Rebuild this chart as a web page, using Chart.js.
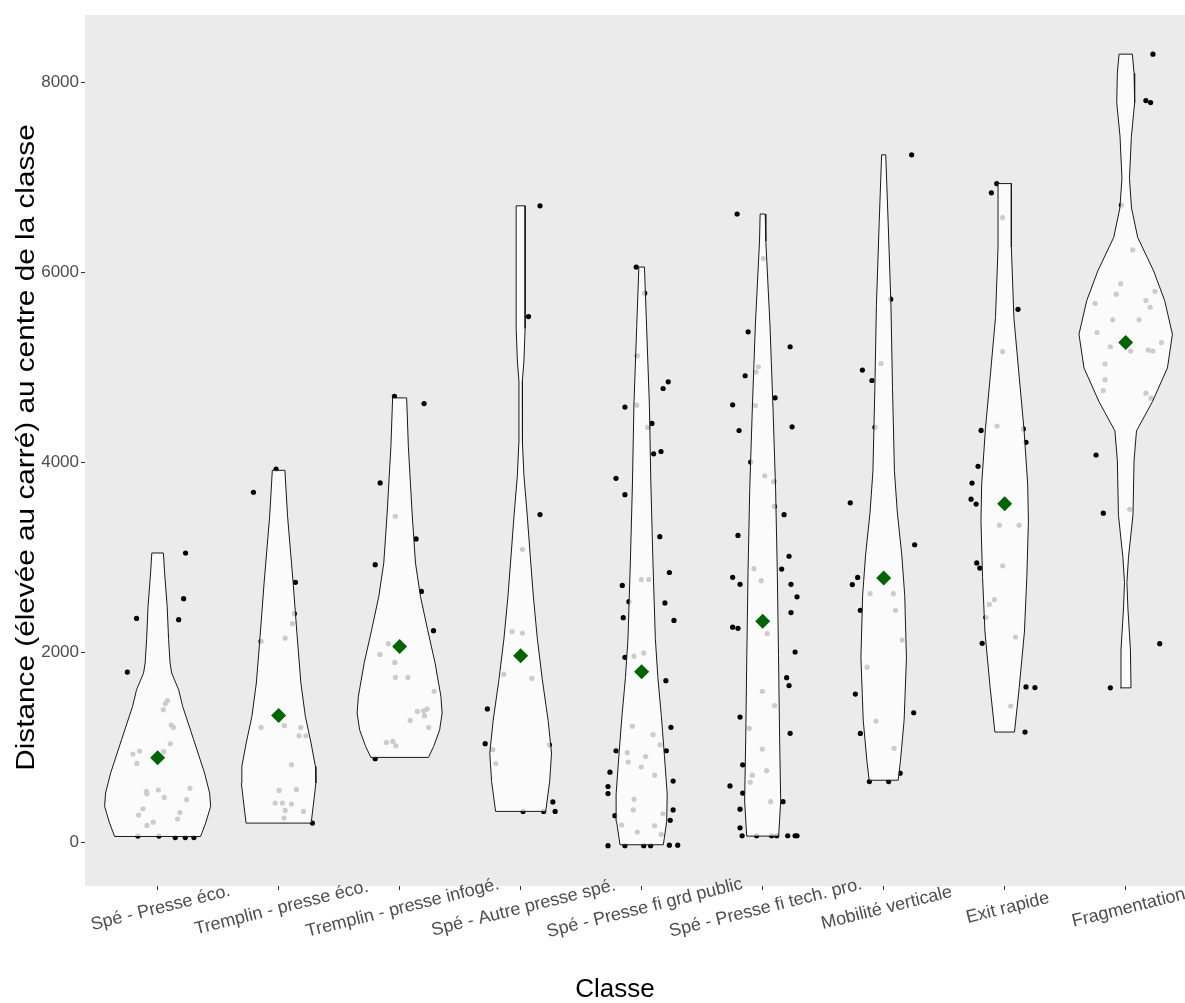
<!DOCTYPE html>
<html>
<head>
<meta charset="utf-8">
<script src="https://cdn.jsdelivr.net/npm/chart.js@4/dist/chart.umd.min.js"></script>
<style>
  body { margin: 0; background: #ffffff; }
</style>
</head>
<body>
<canvas id="violin" width="1185" height="1003"></canvas>
<script>
// classes on the x axis
const categories = [
  'Spé - Presse éco.',
  'Tremplin - presse éco.',
  'Tremplin - presse infogé.',
  'Spé - Autre presse spé.',
  'Spé - Presse fi grd public',
  'Spé - Presse fi tech. pro.',
  'Mobilité verticale',
  'Exit rapide',
  'Fragmentation'
];

const yTicks = [0, 2000, 4000, 6000, 8000];

// mean per class (green diamonds)
const means = [895, 1340, 2066, 1968, 1800, 2330, 2787, 3568, 5263];

// violin outline: levels (y) and half-width (in class units) at each level
const violinLevels = [
  [66, 207, 382, 523, 734, 1084, 1435, 1610, 1786, 1891, 2137, 2487, 2839, 3049],
  [207, 453, 628, 803, 1049, 1329, 1681, 2207, 2734, 3435, 3919],
  [898, 1014, 1189, 1365, 1540, 1891, 2242, 2593, 2944, 3470, 4172, 4681],
  [330, 644, 944, 1288, 1718, 2147, 2577, 3007, 3437, 3866, 4210, 4855, 5069, 5412, 6702],
  [-21, 224, 511, 920, 1329, 1739, 2148, 2966, 3785, 4604, 5423, 6058],
  [70, 440, 1095, 1968, 2841, 3714, 4586, 5459, 6331, 6616],
  [658, 854, 1290, 1945, 2600, 3036, 3472, 3908, 4781, 5654, 6527, 7239],
  [1165, 1632, 2217, 2800, 3384, 3774, 4358, 4942, 5526, 6266, 6936],
  [1630, 2028, 2471, 2738, 3003, 3446, 4022, 4333, 4642, 4997, 5351, 5705, 6016, 6370, 6680, 6990, 7433, 7788, 8098, 8298]
];
const violinHalfWidths = [
  [0.355, 0.397, 0.438, 0.430, 0.388, 0.298, 0.207, 0.174, 0.116, 0.103, 0.091, 0.079, 0.058, 0.048],
  [0.269, 0.292, 0.308, 0.304, 0.268, 0.221, 0.184, 0.151, 0.120, 0.074, 0.052],
  [0.238, 0.281, 0.331, 0.351, 0.341, 0.293, 0.231, 0.172, 0.131, 0.103, 0.072, 0.058],
  [0.207, 0.240, 0.255, 0.227, 0.179, 0.138, 0.106, 0.080, 0.055, 0.027, 0.015, 0.014, 0.027, 0.037, 0.037],
  [0.179, 0.207, 0.211, 0.188, 0.163, 0.134, 0.113, 0.093, 0.076, 0.064, 0.041, 0.023],
  [0.132, 0.149, 0.140, 0.131, 0.121, 0.107, 0.085, 0.060, 0.026, 0.021],
  [0.120, 0.138, 0.169, 0.188, 0.174, 0.149, 0.113, 0.089, 0.073, 0.060, 0.037, 0.017],
  [0.081, 0.120, 0.163, 0.183, 0.196, 0.190, 0.159, 0.117, 0.076, 0.055, 0.055],
  [0.044, 0.039, 0.018, 0.010, 0.023, 0.060, 0.069, 0.089, 0.221, 0.345, 0.386, 0.322, 0.231, 0.099, 0.048, 0.031, 0.047, 0.074, 0.069, 0.055]
];

// jittered observations: [horizontal jitter in class units, value]
const jitterPoints = [
  [[0.231,3049],[0.215,2568],[-0.174,2361],[0.174,2347],[-0.25,1796],[-0.163,70],[0.011,70],[0.146,55],[0.229,55],[0.3,55],
   [0.08,1495],[0.064,1463],[0.047,1400],[0.113,1239],[0.13,1214],[0.105,1042],[-0.149,965],[-0.204,933],[-0.171,835],[0.05,958],
   [-0.093,540],[-0.088,516],[0.006,555],[0.055,477],[0.267,573],[0.24,453],[-0.121,358],[-0.157,291],[0.184,318],[0.165,249],[-0.036,217],[-0.088,182]],
  [[-0.021,3931],[-0.208,3688],[0.139,2740],[0.13,2410],[-0.145,2119],[0.279,207],
   [0.114,2305],[0.054,2154],[-0.145,1214],[0.048,1232],[0.183,1214],[0.169,1126],[0.225,1126],[0.106,821],[0.004,551],[0.147,561],
   [-0.029,418],[0.031,418],[0.106,407],[0.054,340],[0.205,330],[0.045,260]],
  [[-0.043,4698],[0.202,4621],[-0.161,3786],[0.136,3197],[-0.202,2926],[0.18,2645],[0.28,2232],[-0.202,884],
   [-0.035,3435],[-0.093,2095],[-0.163,1982],[-0.04,1898],[-0.035,1740],[0.068,1740],[0.285,1593],[0.147,1382],[0.197,1389],[0.227,1407],
   [0.205,1337],[0.087,1287],[0.24,1214],[-0.109,1056],[-0.056,1066],[-0.031,1021]],
  [[0.16,6702],[0.065,5537],[0.16,3453],[-0.275,1408],[-0.293,1043],[0.266,430],[0.285,330],[0.02,330],[0.19,330],
   [0.015,3088],[-0.07,2221],[0.015,2207],[-0.139,1774],[0.093,1730],[-0.23,979],[-0.205,833],[0.238,1031]],
  [[-0.045,6058],[0.22,4850],[0.177,4780],[-0.138,4584],[0.085,4412],[0.099,4093],[0.16,4117],[-0.212,3835],[-0.138,3663],[0.15,3221],
   [0.229,2844],[-0.16,2708],[-0.105,2537],[0.192,2524],[-0.152,2368],[0.267,2340],[-0.138,1951],[0.2,1705],[0.242,1215],[-0.212,968],
   [0.204,968],[-0.262,743],[-0.278,592],[-0.278,518],[0.26,649],[-0.221,285],[0.26,346],[0.236,236],[-0.278,-31],[-0.138,-31],
   [0.017,-31],[0.074,-31],[0.229,-25],[0.298,-25],
   [0.025,5783],[-0.036,5124],[-0.041,4604],[0.05,4370],[-0.003,2770],[0.058,2770],[0.017,1997],[-0.063,1963],[-0.077,1226],[0.094,1137],
   [0.152,1031],[-0.119,948],[0.033,907],[-0.111,850],[-0.003,797],[0.107,711],[-0.063,457],[-0.069,346],[0.176,305],[-0.165,186],
   [0.107,179],[-0.036,113],[0.162,88]],
  [[-0.211,6616],[-0.12,5376],[0.227,5219],[-0.145,4914],[0.103,4682],[-0.248,4608],[0.243,4377],[-0.195,4338],[-0.099,4006],[0.091,3801],
   [0.177,3452],[-0.204,3234],[0.218,3015],[0.157,2880],[-0.248,2793],[-0.187,2719],[0.234,2719],[0.284,2588],[0.234,2422],[-0.248,2268],
   [-0.204,2256],[0.268,2007],[0.198,1737],[0.218,1654],[-0.187,1322],[0.227,1152],[-0.165,820],[-0.27,598],[-0.165,523],[0.168,432],
   [-0.187,353],[-0.187,157],[-0.17,74],[0.116,74],[0.207,74],[0.268,74],[0.284,74],
   [0.006,6147],[-0.036,5009],[-0.055,4953],[-0.06,4600],[0.017,3862],[0.097,3539],[-0.072,2884],[-0.012,2758],[0.037,2203],[-0.003,1593],
   [0.099,1444],[-0.11,1204],[-0.003,986],[-0.086,711],[-0.103,637],[0.033,759],[0.066,432],[-0.05,74],[0.074,74]],
  [[0.231,7239],[0.058,5720],[-0.176,4974],[-0.097,4864],[-0.072,4371],[-0.276,3577],[0.256,3136],[-0.215,2792],[-0.259,2717],[-0.193,2446],
   [-0.234,1565],[0.248,1368],[-0.193,1150],[0.136,732],[-0.118,644],[0.041,644],
   [-0.022,5043],[-0.113,2621],[0.08,2621],[0.097,2446],[0.152,2133],[-0.137,1848],[-0.063,1281],[0.086,994]],
  [[-0.066,6936],[-0.11,6839],[0.11,5613],[-0.195,4339],[0.154,4355],[0.176,4214],[-0.22,3961],[-0.27,3785],[-0.278,3615],[-0.236,3564],
   [-0.231,2944],[-0.206,2890],[-0.156,2373],[-0.186,2099],[0.176,1640],[0.25,1633],[0.168,1165],
   [-0.017,6578],[-0.017,5168],[-0.063,4385],[-0.044,3342],[0.119,3342],[-0.017,2914],[-0.085,2559],[-0.127,2508],[0.089,2165],[0.05,1438]],
  [[0.225,8298],[0.167,7810],[0.206,7788],[-0.036,6711],[0.21,4678],[-0.245,4080],[-0.185,3468],[0.281,2095],[-0.127,1630],
   [0.058,6238],[-0.041,5883],[-0.078,5772],[-0.253,5675],[0.242,5803],[0.167,5705],[0.202,5635],[-0.107,5502],[0.11,5502],[-0.237,5369],
   [-0.127,5219],[0.041,5174],[0.187,5183],[0.225,5174],[0.295,5263],[-0.171,5037],[-0.171,4873],[-0.185,4758],[0.167,4731],[0.033,3508]]
];

const FONT = '"Liberation Sans", Arial, sans-serif';
const Y_TITLE = 'Distance (élevée au carré) au centre de la classe';
const X_TITLE = 'Classe';

// closed outline: up the left side, down the right side
const violinDatasets = categories.map((name, i) => {
  const lv = violinLevels[i];
  const hw = violinHalfWidths[i];
  const left = lv.map((y, k) => ({ x: i + 1 - hw[k], y: y }));
  const right = lv.map((y, k) => ({ x: i + 1 + hw[k], y: y })).reverse();
  return {
    label: name,
    data: left.concat(right, [left[0]]),
    showLine: true,
    fill: 'shape',
    backgroundColor: 'rgba(255,255,255,0.8)',
    borderColor: '#1a1a1a',
    borderWidth: 1,
    pointRadius: 0,
    tension: 0,
    order: 2
  };
});

const pointData = [];
jitterPoints.forEach((pts, i) => {
  pts.forEach(p => pointData.push({ x: i + 1 + p[0], y: p[1] }));
});

const panelPlugin = {
  id: 'panel',
  beforeDraw(chart) {
    const { ctx, chartArea: a } = chart;
    ctx.save();
    ctx.fillStyle = '#ffffff';
    ctx.fillRect(0, 0, chart.width, chart.height);
    ctx.fillStyle = '#EBEBEB';
    ctx.fillRect(a.left, a.top, a.right - a.left, a.bottom - a.top);
    ctx.restore();
  },
  afterDraw(chart) {
    const { ctx, chartArea: a, scales: { x } } = chart;
    ctx.save();
    // rotated class labels, centred on their tick
    ctx.font = '18px ' + FONT;
    ctx.fillStyle = '#4D4D4D';
    ctx.textAlign = 'center';
    ctx.textBaseline = 'middle';
    categories.forEach((c, i) => {
      ctx.save();
      ctx.translate(x.getPixelForValue(i + 1) + 3, a.bottom + 22);
      ctx.rotate(-14 * Math.PI / 180);
      ctx.fillText(c, 0, 0);
      ctx.restore();
    });
    // axis titles (picture is stretched vertically, so the y title is longer)
    ctx.fillStyle = '#000000';
    ctx.font = '26px ' + FONT;
    ctx.fillText(X_TITLE, 615, 990);
    ctx.save();
    ctx.translate(27, (a.top + a.bottom) / 2 - 3);
    ctx.rotate(-Math.PI / 2);
    ctx.scale(1.19, 1);
    ctx.font = '25px ' + FONT;
    ctx.fillText(Y_TITLE, 0, 0);
    ctx.restore();
    ctx.restore();
  }
};

new Chart(document.getElementById('violin'), {
  type: 'scatter',
  data: {
    datasets: [
      {
        label: 'moyenne',
        data: means.map((m, i) => ({ x: i + 1, y: m })),
        pointStyle: 'rectRot',
        pointRadius: 7.5,
        pointBackgroundColor: '#006400',
        pointBorderWidth: 0,
        order: 1
      },
      ...violinDatasets,
      {
        label: 'observations',
        data: pointData,
        pointRadius: 2.6,
        pointBackgroundColor: '#000000',
        pointBorderWidth: 0,
        order: 3
      }
    ]
  },
  options: {
    responsive: false,
    animation: false,
    layout: { autoPadding: false, padding: { top: 15, right: 0, left: 0, bottom: 0 } },
    plugins: {
      legend: { display: false },
      tooltip: { enabled: false }
    },
    scales: {
      x: {
        type: 'linear',
        min: 0.4,
        max: 9.49,
        afterBuildTicks: s => { s.ticks = categories.map((c, i) => ({ value: i + 1 })); },
        afterFit: s => { s.height = 117; },
        ticks: { display: false, includeBounds: false },
        grid: { drawOnChartArea: false, drawTicks: true, tickLength: 4, color: '#333333', tickColor: '#333333' },
        border: { display: false }
      },
      y: {
        min: -455,
        max: 8710,
        afterBuildTicks: s => { s.ticks = yTicks.map(v => ({ value: v })); },
        afterFit: s => { s.width = 85; },
        ticks: {
          includeBounds: false,
          padding: 2,
          color: '#4D4D4D',
          font: { family: FONT, size: 17 },
          callback: v => String(v)
        },
        grid: { drawOnChartArea: false, drawTicks: true, tickLength: 4, color: '#333333', tickColor: '#333333' },
        border: { display: false }
      }
    }
  },
  plugins: [panelPlugin]
});
</script>
</body>
</html>
